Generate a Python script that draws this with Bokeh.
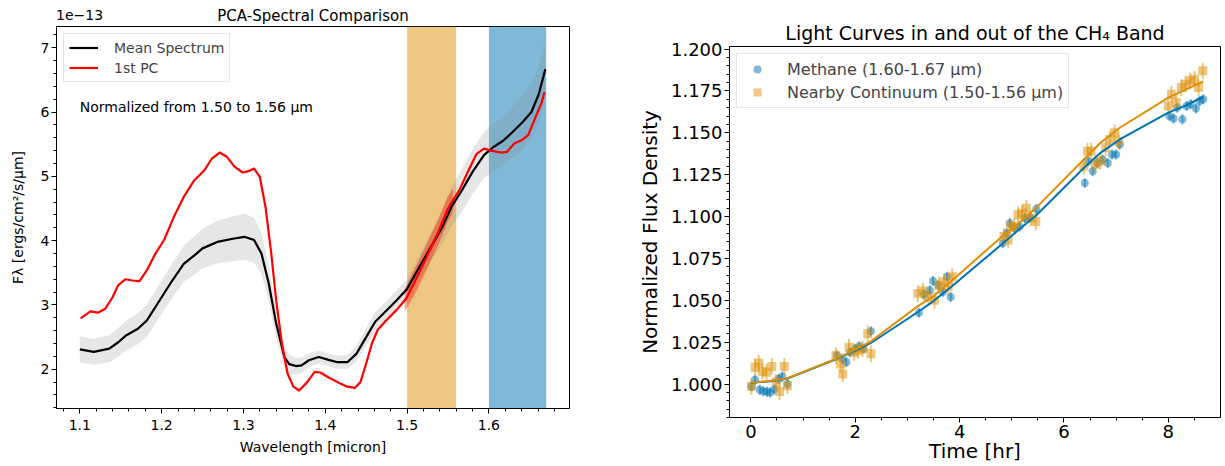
import numpy as np
from bokeh.plotting import figure
from bokeh.models import (FixedTicker, BoxAnnotation, Label, Legend, LegendItem, Range1d,
                          PrintfTickFormatter, Div)
from bokeh.embed import file_html
from bokeh.resources import INLINE

FONT = "DejaVu Sans"

# ---------------- left panel data (units of 1e-13) ----------------
wl_mean = [1.100, 1.117, 1.136, 1.147, 1.157, 1.171, 1.182, 1.199, 1.213, 1.227, 1.240, 1.250,
           1.268, 1.287, 1.301, 1.313, 1.322, 1.331, 1.340, 1.350, 1.356, 1.364, 1.371, 1.380,
           1.392, 1.403, 1.415, 1.427, 1.438, 1.450, 1.461, 1.473, 1.487, 1.500, 1.515, 1.529,
           1.543, 1.554, 1.566, 1.580, 1.594, 1.606, 1.617, 1.629, 1.641, 1.652, 1.661, 1.669]
flux_mean = [2.31, 2.27, 2.32, 2.42, 2.53, 2.63, 2.76, 3.10, 3.38, 3.64, 3.77, 3.88,
             3.98, 4.03, 4.06, 4.01, 3.80, 3.33, 2.71, 2.19, 2.08, 2.05, 2.06, 2.14,
             2.19, 2.15, 2.11, 2.11, 2.24, 2.50, 2.74, 2.89, 3.07, 3.25, 3.59, 3.90,
             4.21, 4.52, 4.76, 5.07, 5.33, 5.46, 5.55, 5.69, 5.84, 6.00, 6.28, 6.67]
sigma_mean = [0.20, 0.20, 0.21, 0.22, 0.23, 0.24, 0.25, 0.26, 0.27, 0.28, 0.30, 0.31,
              0.33, 0.35, 0.36, 0.35, 0.32, 0.28, 0.22, 0.17, 0.15, 0.13, 0.12, 0.11,
              0.10, 0.10, 0.10, 0.11, 0.12, 0.14, 0.15, 0.15, 0.15, 0.15, 0.18, 0.22,
              0.26, 0.30, 0.33, 0.35, 0.36, 0.37, 0.38, 0.40, 0.42, 0.44, 0.44, 0.44]

wl_pc = [1.101, 1.113, 1.122, 1.131, 1.140, 1.147, 1.156, 1.164, 1.173, 1.182, 1.192, 1.203,
         1.215, 1.227, 1.240, 1.252, 1.261, 1.271, 1.280, 1.289, 1.299, 1.306, 1.313, 1.320,
         1.327, 1.334, 1.340, 1.347, 1.354, 1.361, 1.368, 1.378, 1.387, 1.394, 1.403, 1.415,
         1.427, 1.436, 1.443, 1.450, 1.457, 1.464, 1.473, 1.487, 1.499, 1.510, 1.524, 1.538,
         1.550, 1.564, 1.575, 1.585, 1.594, 1.603, 1.615, 1.622, 1.631, 1.641, 1.648, 1.657,
         1.664, 1.668]
flux_pc = [2.79, 2.90, 2.88, 2.94, 3.12, 3.31, 3.40, 3.38, 3.37, 3.54, 3.79, 4.01,
           4.37, 4.68, 4.94, 5.09, 5.27, 5.37, 5.30, 5.15, 5.06, 5.08, 5.12, 4.99,
           4.52, 3.80, 3.07, 2.40, 1.93, 1.73, 1.67, 1.80, 1.96, 1.95, 1.88, 1.80,
           1.73, 1.71, 1.80, 2.09, 2.40, 2.61, 2.74, 2.92, 3.10, 3.38, 3.75, 4.13,
           4.50, 4.79, 5.09, 5.35, 5.43, 5.40, 5.37, 5.38, 5.51, 5.57, 5.64, 5.92,
           6.13, 6.31]
wl_pc_band = [1.497, 1.510, 1.524, 1.538, 1.550, 1.556]
flux_pc_band = [3.07, 3.38, 3.75, 4.13, 4.50, 4.62]
sigma_pc_band = [0.18, 0.20, 0.20, 0.20, 0.20, 0.18]

band_cont = (1.50, 1.56)
band_ch4 = (1.60, 1.67)

left_xticks = [1.1, 1.2, 1.3, 1.4, 1.5, 1.6]
left_yticks = [2, 3, 4, 5, 6, 7]
offset_text = "1e−13"

# ---------------- right panel data ----------------
ch4_t = [0.01, 0.08, 0.17, 0.24, 0.31, 0.37, 0.45, 0.53, 0.60, 0.70,
         1.65, 1.75, 1.83, 1.90, 2.00, 2.08, 2.16, 2.30,
         3.22, 3.32, 3.43, 3.49, 3.59, 3.68, 3.76, 3.83,
         4.83, 4.90, 4.96, 5.05, 5.15, 5.25, 5.35, 5.47,
         6.40, 6.47, 6.55, 6.64, 6.74, 6.84, 6.92, 7.00, 7.07,
         8.02, 8.10, 8.17, 8.27, 8.35, 8.43, 8.53, 8.60, 8.67]
ch4_f = [0.9985, 1.0025, 0.9965, 0.9957, 0.9953, 0.9950, 0.9968, 1.0030, 1.0045, 1.0000,
         1.0170, 1.0150, 1.0130, 1.0190, 1.0210, 1.0225, 1.0210, 1.0315,
         1.0425, 1.0535, 1.0560, 1.0615, 1.0590, 1.0550, 1.0640, 1.0520,
         1.0840, 1.0900, 1.0960, 1.0930, 1.0940, 1.0990, 1.0995, 1.1045,
         1.1200, 1.1330, 1.1270, 1.1320, 1.1340, 1.1320, 1.1370, 1.1370, 1.1430,
         1.1600, 1.1585, 1.1650, 1.1580, 1.1660, 1.1670, 1.1645, 1.1690, 1.1700]
ch4_err = 0.003

cont_t = [0.01, 0.08, 0.15, 0.22, 0.30, 0.40, 0.48, 0.55, 0.64, 0.70,
          1.63, 1.72, 1.76, 1.88, 1.98, 2.05, 2.14, 2.24, 2.30,
          3.20, 3.30, 3.40, 3.52, 3.60, 3.70, 3.78, 3.86,
          4.85, 4.93, 4.98, 5.05, 5.12, 5.20, 5.28, 5.36, 5.46,
          6.38, 6.45, 6.52, 6.60, 6.70, 6.80, 6.88, 6.97, 7.05,
          8.00, 8.06, 8.15, 8.25, 8.33, 8.42, 8.50, 8.58, 8.66]
cont_f = [0.9985, 1.0100, 1.0125, 1.0075, 1.0070, 1.0105, 1.0010, 0.9955, 1.0105, 0.9990,
          1.0170, 1.0120, 1.0060, 1.0220, 1.0190, 1.0200, 1.0210, 1.0300, 1.0180,
          1.0540, 1.0555, 1.0520, 1.0500, 1.0590, 1.0610, 1.0580, 1.0640,
          1.0880, 1.0860, 1.0940, 1.0940, 1.1010, 1.1020, 1.1050, 1.0990, 1.0970,
          1.1300, 1.1390, 1.1390, 1.1310, 1.1330, 1.1410, 1.1460, 1.1500, 1.1450,
          1.1660, 1.1730, 1.1680, 1.1770, 1.1790, 1.1810, 1.1820, 1.1770, 1.1870]
cont_err = 0.005

fit_t = [0.0, 0.35, 0.7, 1.63, 2.0, 2.3, 3.2, 3.5, 3.86, 4.83, 5.15, 5.46,
         6.38, 6.7, 7.07, 8.0, 8.35, 8.67]
fit_ch4 = [1.0008, 1.0015, 1.0033, 1.0148, 1.0200, 1.0245, 1.0430, 1.0495, 1.0585, 1.0840,
           1.0925, 1.1005, 1.1290, 1.1380, 1.1460, 1.1620, 1.1665, 1.1715]
fit_cont = [1.0008, 1.0018, 1.0035, 1.0150, 1.0205, 1.0255, 1.0465, 1.0525, 1.0620, 1.0885,
            1.0965, 1.1050, 1.1340, 1.1440, 1.1530, 1.1710, 1.1760, 1.1806]

right_xticks = [0, 2, 4, 6, 8]
right_yticks = [1.000, 1.025, 1.050, 1.075, 1.100, 1.125, 1.150, 1.175, 1.200]

C_BLUE = "#0173b2"
C_ORANGE = "#de8f05"


def style(p, tick_size, label_size, title_size):
    p.outline_line_color = "black"
    p.outline_line_width = 1
    p.outline_line_alpha = 1
    p.xgrid.visible = False
    p.ygrid.visible = False
    p.background_fill_color = "white"
    p.border_fill_color = "white"
    for ax in (p.xaxis[0], p.yaxis[0]):
        ax.axis_line_color = "black"
        ax.major_tick_line_color = "black"
        ax.minor_tick_line_color = "black"
        ax.major_tick_out = 5
        ax.major_tick_in = 0
        ax.minor_tick_out = 3
        ax.minor_tick_in = 0
        ax.major_label_text_font = FONT
        ax.major_label_text_font_size = tick_size
        ax.major_label_text_color = "black"
        ax.major_label_standoff = 2
        ax.axis_label_text_font = FONT
        ax.axis_label_text_font_size = label_size
        ax.axis_label_text_font_style = "normal"
        ax.axis_label_text_color = "black"
    p.title.text_font = FONT
    p.title.text_font_size = title_size
    p.title.text_font_style = "normal"
    p.title.align = "center"
    p.title.text_color = "black"


# ---------------- left figure ----------------
p1 = figure(width=628, height=466, output_backend="svg", toolbar_location=None,
            x_range=Range1d(1.0715, 1.6985), y_range=Range1d(1.39, 7.33),
            min_border_left=56, min_border_right=59, min_border_top=26, min_border_bottom=58,
            title="PCA-Spectral Comparison")
style(p1, "14px", "14px", "15px")
p1.title.standoff = 4
p1.xaxis.axis_label = "Wavelength [micron]"
p1.yaxis.axis_label = "Fλ [ergs/cm²/s/μm]"
p1.xaxis.ticker = FixedTicker(ticks=left_xticks, minor_ticks=list(np.round(np.arange(1.08, 1.70, 0.02), 2)))
p1.yaxis.ticker = FixedTicker(ticks=left_yticks, minor_ticks=list(np.round(np.arange(1.4, 7.4, 0.2), 1)))
p1.yaxis.axis_label_standoff = 12
p1.xaxis.major_label_standoff = 6
p1.xaxis.axis_label_standoff = 6

p1.add_layout(BoxAnnotation(left=band_cont[0], right=band_cont[1], fill_color=C_ORANGE,
                            fill_alpha=0.5, line_color=None, level="underlay"))
p1.add_layout(BoxAnnotation(left=band_ch4[0], right=band_ch4[1], fill_color=C_BLUE,
                            fill_alpha=0.5, line_color=None, level="underlay"))

fm = np.array(flux_mean)
sm = np.array(sigma_mean)
p1.varea(x=wl_mean, y1=fm - sm, y2=fm + sm, fill_color="gray", fill_alpha=0.2)
fp = np.array(flux_pc_band)
sp = np.array(sigma_pc_band)
p1.varea(x=wl_pc_band, y1=fp - sp, y2=fp + sp, fill_color="red", fill_alpha=0.35)

r_mean = p1.line(wl_mean, flux_mean, line_color="black", line_width=2.2, line_join="round")
r_pc = p1.line(wl_pc, flux_pc, line_color="red", line_width=2.2, line_join="round")

leg1 = Legend(items=[LegendItem(label="Mean Spectrum", renderers=[r_mean]),
                     LegendItem(label="1st PC", renderers=[r_pc])],
              location="top_left")
leg1.margin = 7
leg1.padding = 5
leg1.spacing = 3
leg1.glyph_width = 29
leg1.glyph_height = 17
leg1.label_height = 17
leg1.label_standoff = 16
leg1.label_text_font = FONT
leg1.label_text_font_size = "14px"
leg1.border_line_color = "#cccccc"
leg1.border_line_width = 1
leg1.background_fill_alpha = 0.8
p1.add_layout(leg1)

p1.add_layout(Label(x=1.1, y=6.08, text="Normalized from 1.50 to 1.56 μm",
                    text_font=FONT, text_font_size="14px", text_baseline="middle",
                    text_color="black"))

# the axis offset text sits above the left frame (annotations are clipped to the frame)
offset_div = Div(text=offset_text,
                 styles={"position": "absolute", "left": "56px", "top": "7px",
                         "font-family": "DejaVu Sans", "font-size": "14px",
                         "line-height": "16px", "color": "black", "margin": "0"})

# ---------------- right figure ----------------
p2 = figure(width=597, height=466, output_backend="svg", toolbar_location=None,
            x_range=Range1d(-0.41, 9.0), y_range=Range1d(0.980, 1.2015),
            min_border_left=101, min_border_right=5, min_border_top=46, min_border_bottom=49,
            title="Light Curves in and out of the CH₄ Band")
style(p2, "18px", "20px", "19px")
p2.title.standoff = 6
p2.xaxis.axis_label = "Time [hr]"
p2.yaxis.axis_label = "Normalized Flux Density"
p2.xaxis.ticker = FixedTicker(ticks=right_xticks, minor_ticks=list(np.arange(0.0, 9.0, 0.5)))
p2.yaxis.ticker = FixedTicker(ticks=right_yticks, minor_ticks=list(np.round(np.arange(0.980, 1.2016, 0.005), 3)))
p2.yaxis.formatter = PrintfTickFormatter(format="%.3f")
p2.xaxis.axis_label_standoff = -2
p2.yaxis.axis_label_standoff = 6

ct = np.array(ch4_t); cf = np.array(ch4_f)
ot = np.array(cont_t); of = np.array(cont_f)
p2.segment(x0=ct, y0=cf - ch4_err, x1=ct, y1=cf + ch4_err, line_color=C_BLUE, line_alpha=0.5, line_width=2)
r_ch4 = p2.scatter(ct, cf, marker="circle", size=8, fill_color=C_BLUE, fill_alpha=0.5,
                   line_color=None)
p2.segment(x0=ot, y0=of - cont_err, x1=ot, y1=of + cont_err, line_color=C_ORANGE, line_alpha=0.5, line_width=2)
r_cont = p2.scatter(ot, of, marker="square", size=9, fill_color=C_ORANGE, fill_alpha=0.5,
                    line_color=None)
p2.line(fit_t, fit_ch4, line_color=C_BLUE, line_width=2)
p2.line(fit_t, fit_cont, line_color=C_ORANGE, line_width=2)

leg2 = Legend(items=[LegendItem(label="Methane (1.60-1.67 μm)", renderers=[r_ch4]),
                     LegendItem(label="Nearby Continuum (1.50-1.56 μm)", renderers=[r_cont])],
              location="top_left")
leg2.margin = 7
leg2.padding = 5
leg2.spacing = 3
leg2.glyph_width = 30
leg2.glyph_height = 20
leg2.label_height = 20
leg2.label_standoff = 15
leg2.label_text_font = FONT
leg2.label_text_font_size = "16px"
leg2.border_line_color = "#cccccc"
leg2.border_line_width = 1
leg2.background_fill_alpha = 0.8
p2.add_layout(leg2)

# independent roots laid side by side (so the two frames are not aligned)
html = file_html([p1, p2, offset_div], INLINE)
html = html.replace("</head>",
                    "<style>html,body{margin:0;padding:0;}"
                    "body{display:flex;flex-direction:row;align-items:flex-start;}</style></head>", 1)
open("out.html", "w").write(html)
